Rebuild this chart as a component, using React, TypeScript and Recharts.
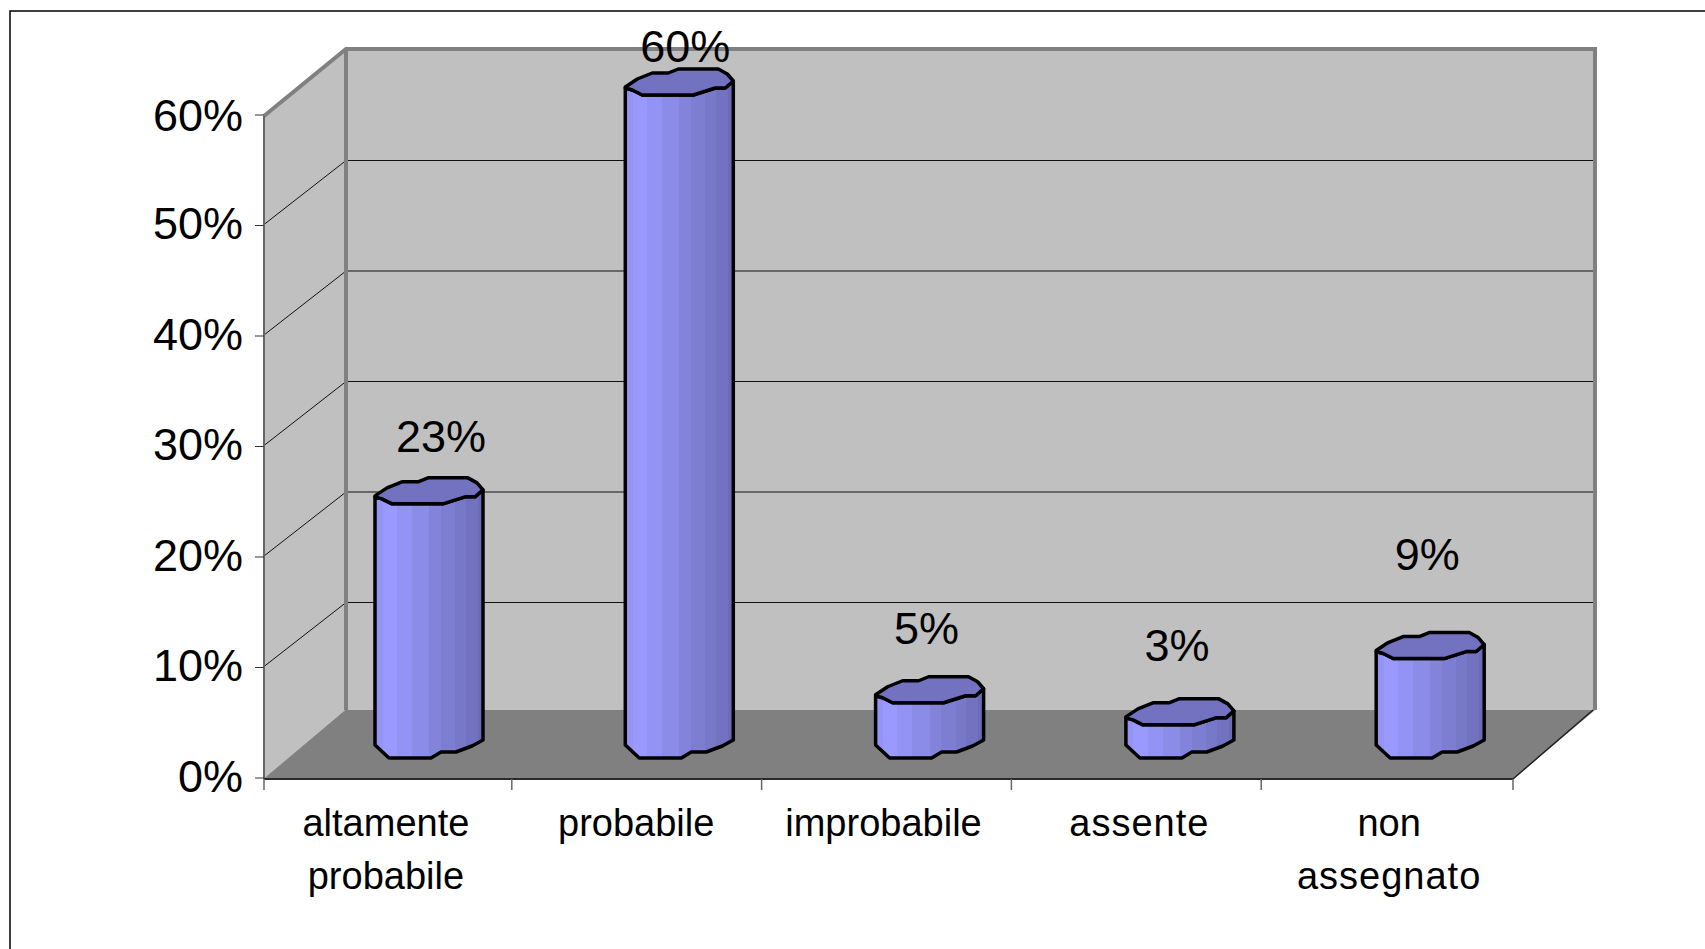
import React from 'react';
import { BarChart, Bar, XAxis, YAxis, Customized, LabelList } from 'recharts';

const categories = ['altamente probabile', 'probabile', 'improbabile', 'assente', 'non assegnato'];
const shares = [23, 60, 5, 3, 9];
const yTickValues = [0, 10, 20, 30, 40, 50, 60];

const data = categories.map((name, i) => ({ name, share: shares[i] }));

// layout of the pseudo-3D box
const W = 1705, H = 949;
const PLOT = { left: 264, right: 1513, top: 116, bottom: 779 };
const DEPTH = { dx: 82, dy: -66 };
const BACK_TOP = 49;
const SLOT = (PLOT.right - PLOT.left) / categories.length;
const FONT = '"Liberation Sans", Arial, sans-serif';
const BAR_SHIFT = { x: 40, y: -21, drift: 0.5 };
const LABEL_NUDGE = [
  { x: 12, y: -68 },
  { x: 6, y: -49 },
  { x: -3, y: -75 },
  { x: -3, y: -80 },
  { x: -3, y: -105 },
];
const CATEGORY_NUDGE = [0, 0.5, -2, 4, 4];

const yOf = (v: number) => PLOT.bottom - (v / 60) * (PLOT.bottom - PLOT.top);

const Box3D = () => {
  const backLeft = PLOT.left + DEPTH.dx;
  const backRight = PLOT.right + DEPTH.dx;
  const floorBack = PLOT.bottom + DEPTH.dy - 3;
  const gridDy = -66;
  return (
    <g>
      <path d={`M10 ${H + 20} V11 H${W + 20}`} fill="none" stroke="#000" strokeWidth={1.5} />
      <rect x={backLeft} y={BACK_TOP} width={backRight - backLeft} height={floorBack - BACK_TOP} fill="#c0c0c0" />
      <polygon points={`${PLOT.left},${PLOT.top} ${backLeft},${BACK_TOP} ${backLeft},${floorBack} ${PLOT.left},${PLOT.bottom}`} fill="#c0c0c0" />
      <polygon points={`${PLOT.left},${PLOT.bottom} ${backLeft},${floorBack} ${backRight},${floorBack} ${PLOT.right},${PLOT.bottom}`} fill="#808080" />
      {yTickValues.slice(1, -1).map((v) => (
        <g key={v} stroke="#111" strokeWidth={1}>
          <line x1={PLOT.left} y1={yOf(v) - 2} x2={backLeft} y2={yOf(v) + gridDy} />
          <line x1={backLeft} y1={yOf(v) + gridDy} x2={backRight} y2={yOf(v) + gridDy} />
        </g>
      ))}
      <path d={`M${PLOT.left} ${PLOT.top} L${backLeft} ${BACK_TOP} H${backRight} V${floorBack}`} fill="none" stroke="#808080" strokeWidth={4} />
      <line x1={backLeft} y1={BACK_TOP} x2={backLeft} y2={floorBack} stroke="#808080" strokeWidth={4} />
      <line x1={PLOT.left} y1={PLOT.top} x2={PLOT.left} y2={PLOT.bottom} stroke="#666" strokeWidth={2} />
      <line x1={PLOT.right} y1={PLOT.bottom} x2={backRight - 2} y2={floorBack} stroke="#222" strokeWidth={1.5} />
      <line x1={PLOT.left} y1={PLOT.bottom} x2={backLeft} y2={floorBack} stroke="#808080" strokeWidth={1} />
      <line x1={PLOT.left} y1={PLOT.bottom} x2={PLOT.right} y2={PLOT.bottom} stroke="#2a2a2a" strokeWidth={2} />
      <defs>
        <linearGradient id="cyl" x1="0" y1="0" x2="1" y2="0">
          {[
            [0, '#9494f4'], [0.07, '#9494f4'], [0.07, '#9999ff'], [0.2, '#9999ff'], [0.2, '#9393f5'],
            [0.34, '#9393f5'], [0.34, '#8b8be8'], [0.5, '#8b8be8'], [0.5, '#8383dc'], [0.61, '#8383dc'],
            [0.61, '#7d7dd2'], [0.74, '#7d7dd2'], [0.74, '#7878c8'], [0.84, '#7878c8'], [0.84, '#7272c0'],
            [0.95, '#7272c0'], [0.95, '#6c6cb6'], [1, '#6c6cb6'],
          ].map(([o, c], i) => (
            <stop key={i} offset={o as number} stopColor={c as string} />
          ))}
        </linearGradient>
      </defs>
    </g>
  );
};

const Cylinder = (props: any) => {
  const x0 = props.x + BAR_SHIFT.x + (props.index ?? 0) * BAR_SHIFT.drift;
  const y0 = props.y + BAR_SHIFT.y;
  const w = props.width;
  const h = props.height;
  const k = w / 108;
  const px = (a: number, b: number) => `${x0 + a * k},${y0 + b}`;
  const capBack = [[0, -8], [12, -16], [27, -22], [43, -22], [53, -26], [93, -26], [102, -21], [108, -14]];
  const capFront = [[108, -14], [100, -7], [90, -7], [68, 0], [17, 0], [7, -5], [0, -7]];
  const bottom = [[108, h - 18], [97, h - 12], [81, h - 6], [66, h - 6], [56, h], [14, h], [0, h - 13]];
  const body = [...capFront.slice().reverse(), ...bottom].map(([a, b]) => px(a, b)).join(' ');
  const cap = [...capBack, ...capFront].map(([a, b]) => px(a, b)).join(' ');
  return (
    <g stroke="#000" strokeWidth={3.5} strokeLinejoin="round">
      <polygon points={body} fill="url(#cyl)" />
      <polygon points={cap} fill="#7272c0" />
    </g>
  );
};

const YTick = (props: any) => {
  const { y, payload } = props;
  const textLift = payload.value === 60 ? 1 : 3.5;
  return (
    <g>
      <line x1={PLOT.left - 9} y1={y - 1} x2={PLOT.left} y2={y - 1} stroke="#333" strokeWidth={1} />
      <text x={243} y={y - textLift} dy="0.358em" textAnchor="end" fontFamily={FONT} fontSize={45} fill="#000">
        {`${payload.value}%`}
      </text>
    </g>
  );
};

const XTick = (props: any) => {
  const { x, payload, index } = props;
  const words = String(payload.value).split(' ');
  const left = x - SLOT / 2 - (index === 0 ? 0 : 2);
  const right = x + SLOT / 2;
  return (
    <g>
      <line x1={left} y1={PLOT.bottom} x2={left} y2={PLOT.bottom + 11} stroke="#666" strokeWidth={1.5} />
      {index === categories.length - 1 && (
        <line x1={right} y1={PLOT.bottom} x2={right} y2={PLOT.bottom + 11} stroke="#666" strokeWidth={1.5} />
      )}
      {words.map((word, i) => (
        <text
          key={word}
          x={x - 3 + CATEGORY_NUDGE[index]}
          y={836 + i * 53}
          textAnchor="middle"
          fontFamily={FONT}
          fontSize={38}
          letterSpacing={word.includes('ss') ? 1 : 0}
          fill="#000"
        >
          {word}
        </text>
      ))}
    </g>
  );
};

const ValueLabel = (props: any) => {
  const { x, y, width, value, index } = props;
  const nudge = LABEL_NUDGE[index];
  return (
    <text
      x={x + width / 2 + BAR_SHIFT.x + index * BAR_SHIFT.drift + nudge.x}
      y={y + BAR_SHIFT.y + nudge.y}
      dy="0.358em"
      textAnchor="middle"
      fontFamily={FONT}
      fontSize={45}
      fill="#000"
    >
      {`${value}%`}
    </text>
  );
};

export default function App() {
  return (
    <div style={{ position: 'absolute', left: 0, top: 0, width: W, height: H, overflow: 'hidden', background: '#fff' }}>
      <BarChart
        width={W}
        height={H}
        data={data}
        margin={{ left: PLOT.left - 1, right: W - PLOT.right, top: PLOT.top, bottom: H - PLOT.bottom - 1 }}
      >
        <Customized component={Box3D} />
        <XAxis dataKey="name" height={1} axisLine={false} tickLine={false} tick={<XTick />} interval={0} />
        <YAxis width={1} domain={[0, 60]} ticks={yTickValues} axisLine={false} tickLine={false} tick={<YTick />} interval={0} />
        <Bar dataKey="share" barSize={108} isAnimationActive={false} shape={<Cylinder />}>
          <LabelList dataKey="share" content={<ValueLabel />} />
        </Bar>
      </BarChart>
    </div>
  );
}
